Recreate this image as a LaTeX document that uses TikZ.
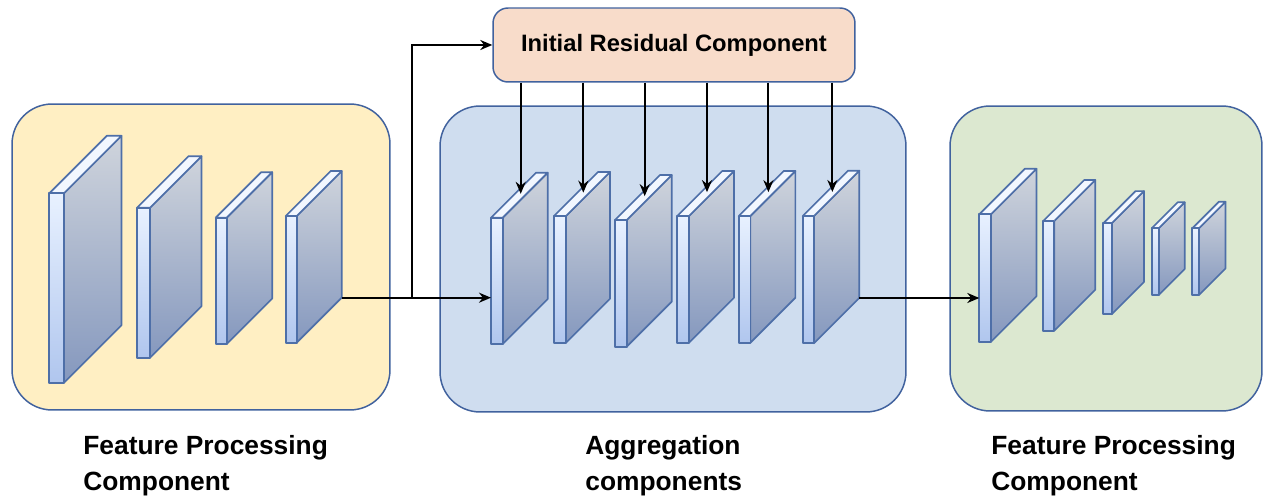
\documentclass[tikz,border=0pt]{standalone}
\usepackage{fontspec}
\setmainfont{Liberation Sans}
\usetikzlibrary{arrows.meta,calc}
\definecolor{bord}{HTML}{41629E}
\definecolor{slabline}{HTML}{4E6FA8}
\definecolor{yel}{HTML}{FFEFC3}
\definecolor{blu}{HTML}{CFDDEF}
\definecolor{grn}{HTML}{DCE8D0}
\definecolor{pch}{HTML}{F8DCCA}
\definecolor{fronttop}{HTML}{E8F1FF}
\definecolor{frontbot}{HTML}{B0C6EE}
\definecolor{sidetop}{HTML}{CFD4DC}
\definecolor{sidebot}{HTML}{8598BE}
\definecolor{topface}{HTML}{F2F7FF}
\tikzset{
  panel/.style={draw=bord,line width=0.85pt,rounded corners=0.8cm,inner sep=0pt},
  slabedge/.style={draw=slabline,line width=0.95pt,line join=round},
  arr/.style={draw=black,line width=1.15pt,-{Stealth[length=2.4mm,width=2mm]}},
  lbl/.style={font=\bfseries\fontsize{15}{20.5}\selectfont,align=left,anchor=north west,inner sep=0pt},
}
% name, x, ytop, w, h, d
\newcommand\slabshape[6]{%
  \path[slabedge,top color=sidetop,bottom color=sidebot]
    ({#2+#4},{#3}) -- ({#2+#4+#6},{#3-#6}) -- ({#2+#4+#6},{#3+#5-#6}) -- ({#2+#4},{#3+#5}) -- cycle;
  \path[slabedge,fill=topface]
    ({#2},{#3}) -- ({#2+#4},{#3}) -- ({#2+#4+#6},{#3-#6}) -- ({#2+#6},{#3-#6}) -- cycle;
  \path[slabedge,top color=fronttop,bottom color=frontbot]
    ({#2},{#3}) rectangle ({#2+#4},{#3+#5});
  \coordinate (#1-w) at ({#2},{#3+#5/2});
  \coordinate (#1-se) at ({#2+#4+#6},{#3+#5-#6});
  \coordinate (#1-t) at ({#2+#4/2+0.53*#6},{#3-0.53*#6});
}
\begin{document}
\begin{tikzpicture}[x=0.02cm,y=-0.02cm]
\useasboundingbox (0,0) rectangle (1264,499);
% panels
\node[panel,fill=yel,minimum width=7.56cm,minimum height=6.12cm] (fpl) at (201,257) {};
\node[panel,fill=blu,minimum width=9.32cm,minimum height=6.12cm] (agg) at (673,259) {};
\node[panel,fill=grn,minimum width=6.24cm,minimum height=6.1cm] (fpr) at (1106,258.5) {};
\node[draw=bord,line width=0.85pt,rounded corners=0.3cm,fill=pch,minimum width=7.24cm,minimum height=1.48cm,inner sep=0pt,font=\bfseries\fontsize{13.5}{16}\selectfont] (irc) at (674,45) {Initial Residual Component};
% left slabs
\slabshape{L1}{49.3}{193.3}{14.7}{189.4}{57.5}
\slabshape{L2}{137}{207.7}{13}{150}{51.5}
\slabshape{L3}{215.7}{217.7}{11}{126.3}{45.5}
\slabshape{L4}{285.7}{216}{11}{126.7}{45}
% middle slabs
\slabshape{MA}{491}{217.7}{11.7}{126.3}{45}
\slabshape{MB}{554}{216}{12}{126.7}{44}
\slabshape{MC}{615}{220}{11.7}{126.7}{45}
\slabshape{MD}{677.3}{216}{11.7}{126.7}{45}
\slabshape{ME}{738.7}{216}{11.7}{126.7}{45}
\slabshape{MF}{802.7}{216}{11.3}{127.3}{45.3}
% right slabs
\slabshape{R1}{979.3}{214.3}{11.7}{127.4}{45.5}
\slabshape{R2}{1043.3}{221}{11}{109.7}{41}
\slabshape{R3}{1103.3}{223.3}{8.4}{91}{32.2}
\slabshape{R4}{1151.7}{228.3}{7}{66.7}{26}
\slabshape{R5}{1192.3}{228.3}{6.7}{66.7}{26.5}
% connectors
\coordinate (br) at (411.7,300);
\draw[arr] (L4-se) -- (MA-w |- L4-se);
\draw[arr] (br |- L4-se) |- (irc.west);
\draw[arr] (MF-se) -- (R1-w |- MF-se);
\foreach \s in {MA,MB,MC,MD,ME,MF}{
  \draw[arr] (irc.south -| \s-t) -- (\s-t);
}
% labels
\node[lbl] (lab1) at (83,435) {Feature Processing\\Component};
\node[lbl] (lab2) at (585,435) {Aggregation\\components};
\node[lbl] (lab3) at (991,435) {Feature Processing\\Component};
\end{tikzpicture}
\end{document}
